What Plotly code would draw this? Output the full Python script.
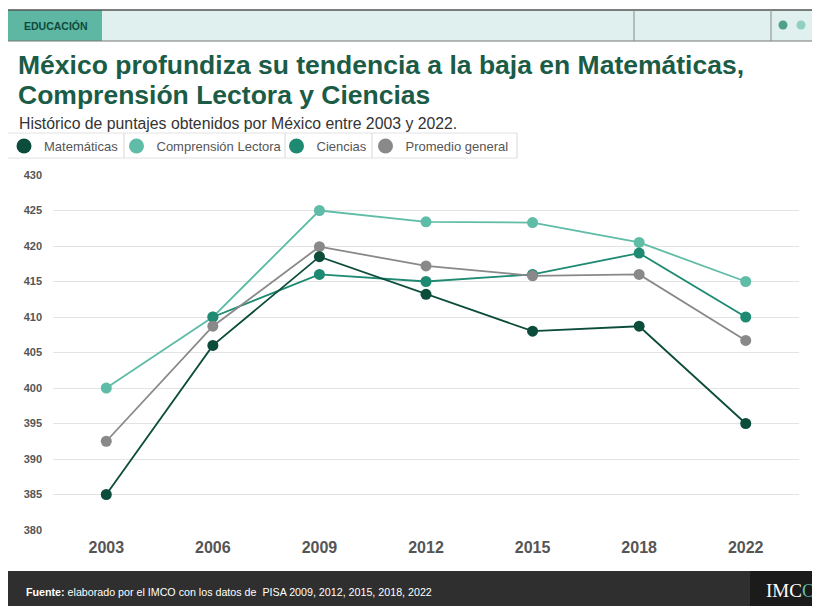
import plotly.graph_objects as go

years = ["2003", "2006", "2009", "2012", "2015", "2018", "2022"]
matematicas = [385, 406, 418.5, 413.2, 408, 408.7, 395]
lectora = [400, 410, 425, 423.4, 423.3, 420.5, 415]
ciencias = [None, 410, 416, 415, 416, 419, 410]
promedio = [392.5, 408.7, 419.9, 417.2, 415.8, 416, 406.7]
series_names = ["Matemáticas", "Comprensión Lectora", "Ciencias", "Promedio general"]
y_ticks = [380, 385, 390, 395, 400, 405, 410, 415, 420, 425, 430]

C_MAT = "#0c4c3b"
C_LEC = "#5fbca7"
C_CIE = "#1d8a71"
C_PRO = "#898989"

W, H = 820, 611
OFF = 8  # page body offset
# plot area in screen (target) pixels
L, R, T, B = 53, 799, 175, 530


def px(x):
    return (x - L) / (R - L)


def py(y):
    return (B - y) / (B - T)


fig = go.Figure()

# data traces (draw order matters for overlaps)
for vals, col, name in [
    (lectora, C_LEC, series_names[1]),
    (ciencias, C_CIE, series_names[2]),
    (promedio, C_PRO, series_names[3]),
    (matematicas, C_MAT, series_names[0]),
]:
    fig.add_trace(go.Scatter(
        x=years, y=vals, mode="lines+markers", name=name,
        line=dict(color=col, width=1.8),
        marker=dict(color=col, size=11),
        showlegend=False, cliponaxis=False,
    ))

# legend-only entries, one legend box each so they can be placed individually
legend_ids = ["legend", "legend2", "legend3", "legend4"]
legend_left = [4, 116.5, 276.5, 365.5]
for name, col, lid in zip(series_names, [C_MAT, C_LEC, C_CIE, C_PRO], legend_ids):
    fig.add_trace(go.Scatter(
        x=[None], y=[None], mode="markers", name=name,
        marker=dict(color=col, size=15), showlegend=True, legend=lid,
    ))

shapes = []
# header band
shapes.append(dict(type="rect", xref="paper", yref="paper", x0=px(8), x1=px(830), y0=py(41), y1=py(10),
                   fillcolor="#dff0ee", line=dict(width=0), layer="below"))
shapes.append(dict(type="rect", xref="paper", yref="paper", x0=px(8), x1=px(102), y0=py(41), y1=py(10),
                   fillcolor="#5eb7a2", line=dict(width=0), layer="below"))
shapes.append(dict(type="line", xref="paper", yref="paper", x0=px(8), x1=px(830), y0=py(10), y1=py(10),
                   line=dict(color="#555555", width=1.5)))
shapes.append(dict(type="line", xref="paper", yref="paper", x0=px(8), x1=px(830), y0=py(41), y1=py(41),
                   line=dict(color="#777777", width=1.2)))
for xd in [634, 771]:
    shapes.append(dict(type="line", xref="paper", yref="paper", x0=px(xd), x1=px(xd), y0=py(41), y1=py(10),
                       line=dict(color="#8a8a8a", width=1)))
for xc, col in [(783, "#4f9f8a"), (801, "#8fd0c0"), (818, "#0d4a3a")]:
    shapes.append(dict(type="circle", xref="paper", yref="paper", x0=px(xc - 4.5), x1=px(xc + 4.5),
                       y0=py(25 + 4.5), y1=py(25 - 4.5), fillcolor=col, line=dict(width=0)))

# legend frame
for yy in [133, 158]:
    shapes.append(dict(type="line", xref="paper", yref="paper", x0=px(8), x1=px(517), y0=py(yy), y1=py(yy),
                       line=dict(color="#e2e2e2", width=1)))
for xs in [124, 285, 372, 517]:
    shapes.append(dict(type="line", xref="paper", yref="paper", x0=px(xs), x1=px(xs), y0=py(158), y1=py(133),
                       line=dict(color="#d8d8d8", width=1)))

# footer
shapes.append(dict(type="rect", xref="paper", yref="paper", x0=px(8), x1=px(830), y0=py(606), y1=py(571),
                   fillcolor="#2f2f2f", line=dict(width=0)))
shapes.append(dict(type="rect", xref="paper", yref="paper", x0=px(750), x1=px(830), y0=py(606), y1=py(571),
                   fillcolor="#1b1b1b", line=dict(width=0)))

annotations = [
    dict(text="<b>EDUCACIÓN</b>", x=px(22), y=py(26), xanchor="left", yanchor="middle",
         font=dict(family="Liberation Sans, Arial", size=10.5, color="#0d4a3a")),
    dict(text="<b>México profundiza su tendencia a la baja en Matemáticas,</b>", x=px(16), y=py(65),
         xanchor="left", yanchor="middle",
         font=dict(family="Liberation Sans, Arial", size=26.5, color="#1b5c47")),
    dict(text="<b>Comprensión Lectora y Ciencias</b>", x=px(16), y=py(95),
         xanchor="left", yanchor="middle",
         font=dict(family="Liberation Sans, Arial", size=26.5, color="#1b5c47")),
    dict(text="Histórico de puntajes obtenidos por México entre 2003 y 2022.", x=px(17), y=py(123),
         xanchor="left", yanchor="middle",
         font=dict(family="Liberation Sans, Arial", size=15.8, color="#333333")),
    dict(text="<b>Fuente:</b> elaborado por el IMCO con los datos de  PISA 2009, 2012, 2015, 2018, 2022",
         x=px(24), y=py(592), xanchor="left", yanchor="middle",
         font=dict(family="Liberation Sans, Arial", size=10.7, color="#ffffff")),
    dict(text="IMC<span style='color:#5fbca7'>O</span>", x=px(764), y=py(590), xanchor="left", yanchor="middle",
         font=dict(family="Liberation Serif, Times New Roman", size=19, color="#ffffff")),
]

for a in annotations:
    a.update(xref="paper", yref="paper", showarrow=False)

legend_font = dict(family="Liberation Sans, Arial", size=13, color="#555555")
legends = {}
for lid, left in zip(legend_ids, legend_left):
    legends[lid] = dict(orientation="h", x=px(left), xanchor="left", y=py(146), yanchor="middle",
                        font=legend_font, bgcolor="rgba(0,0,0,0)",
                        itemclick=False, itemdoubleclick=False)

fig.update_layout(
    width=W, height=H,
    margin=dict(l=L - OFF, r=W - (R - OFF), t=T - OFF, b=H - (B - OFF), autoexpand=False),
    paper_bgcolor="#ffffff", plot_bgcolor="#ffffff",
    showlegend=True,
    shapes=shapes,
    annotations=annotations,
    xaxis=dict(type="category", range=[-0.5, 6.5], showgrid=False, zeroline=False,
               showline=False, ticks="",
               tickfont=dict(family="Liberation Sans, Arial", size=16,
                             color="#555555", weight="bold"),
               ticklabelstandoff=6),
    yaxis=dict(range=[380, 430], tickvals=y_ticks, showgrid=True, gridcolor="#e3e3e3", gridwidth=1,
               zeroline=False, showline=False, ticks="",
               tickfont=dict(family="Liberation Sans, Arial", size=11, color="#555555", weight="bold"),
               ticklabelstandoff=10),
    hovermode=False,
    **legends,
)

fig.write_html("out.html")
